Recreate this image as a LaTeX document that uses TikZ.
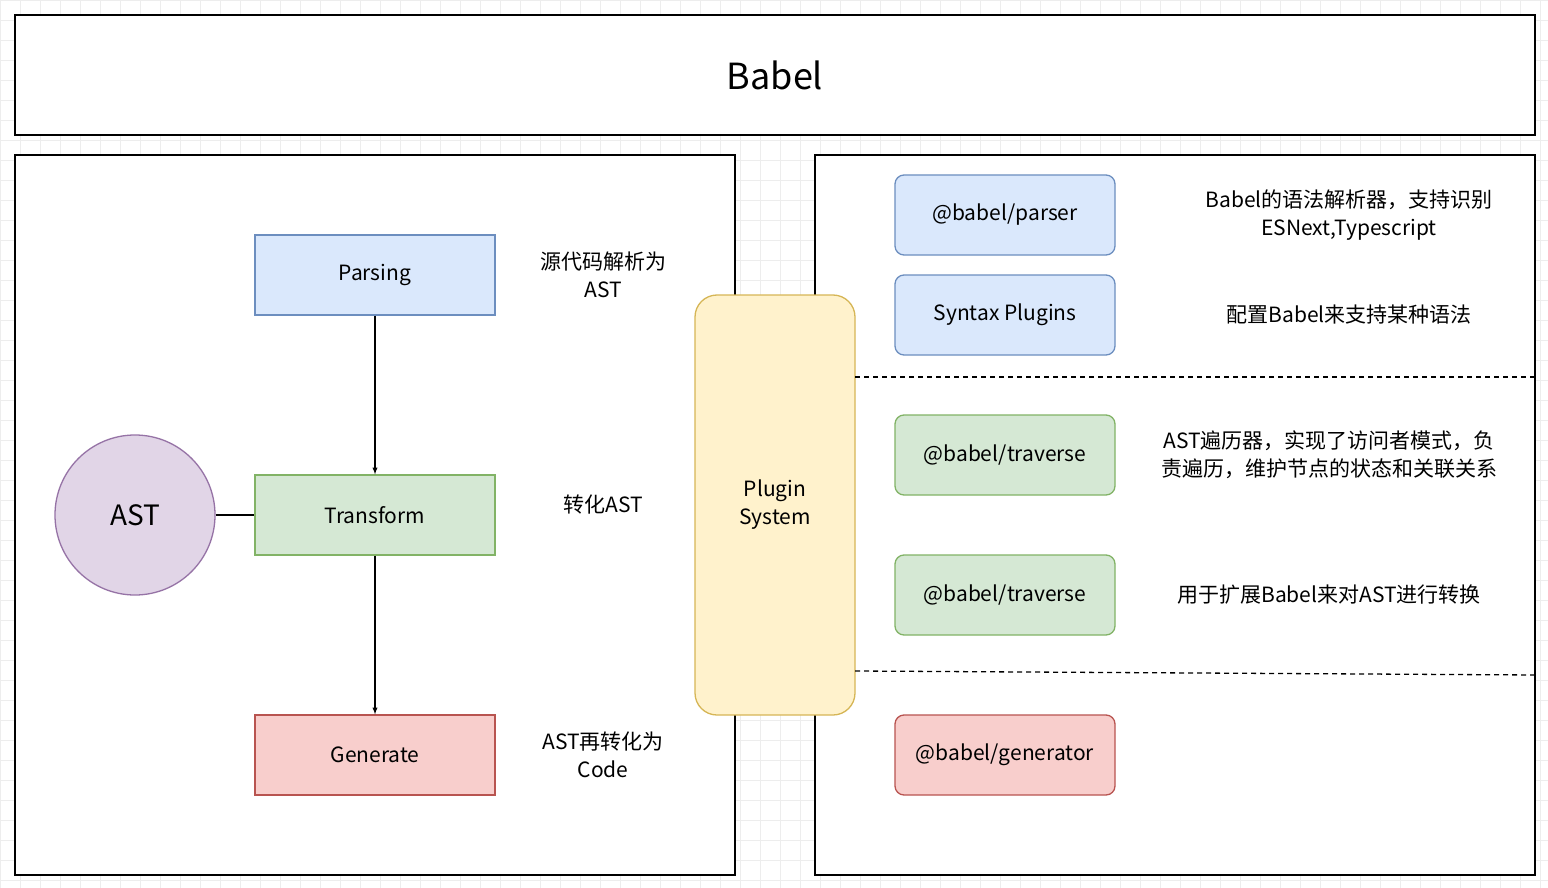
\documentclass[tikz,border=0pt]{standalone}
\usepackage{fontspec}
\setmainfont{Noto Sans CJK SC}
\begin{document}
\begin{tikzpicture}[x=1pt,y=-1pt,
  box/.style={draw=black,line width=1.3pt},
  n/.style={draw,line width=1.3pt,minimum width=240pt,minimum height=80pt,font=\fontsize{21}{25}\selectfont},
  rn/.style={n,rounded corners=9pt,minimum width=220pt},
  blue/.style={fill={rgb,255:red,218;green,232;blue,252},draw={rgb,255:red,108;green,142;blue,191}},
  green/.style={fill={rgb,255:red,213;green,232;blue,212},draw={rgb,255:red,130;green,179;blue,102}},
  red/.style={fill={rgb,255:red,248;green,206;blue,204},draw={rgb,255:red,184;green,84;blue,80}},
  lbl/.style={align=center,font=\fontsize{21}{28}\selectfont},
  arr/.style={-latex,line width=1.3pt}]
\useasboundingbox (0,0) rectangle (1548,888);
\fill[white] (0,0) rectangle (1548,888);
\draw[black!7,line width=0.8pt,step=20pt] (0,0) grid (1548,888);
\node[box,minimum width=1520pt,minimum height=120pt,fill=white,font=\fontsize{36}{40}\selectfont] (babel) at (775,75) {Babel};
\draw[box,fill=white] (15,155) rectangle (735,875);
\draw[box,fill=white] (815,155) rectangle (1535,875);
\node[n,blue] (parsing) at (375,275) {Parsing};
\node[n,green] (transform) at (375,515) {Transform};
\node[n,red] (generate) at (375,755) {Generate};
\node[circle,draw,line width=1.3pt,minimum size=160pt,fill={rgb,255:red,225;green,213;blue,231},draw={rgb,255:red,150;green,115;blue,166},font=\fontsize{28}{32}\selectfont] (ast) at (135,515) {AST};
\draw[line width=1.3pt] (ast) -- (transform);
\draw[arr] (parsing) -- (transform);
\draw[arr] (transform) -- (generate);
\node[lbl] (l1) at (603,275) {源代码解析为\\AST};
\node[lbl] (l2) at (603,505) {转化AST};
\node[lbl] (l3) at (603,755) {AST再转化为\\Code};
\node[draw,line width=1.3pt,rounded corners=22pt,minimum width=160pt,minimum height=420pt,fill={rgb,255:red,255;green,242;blue,204},draw={rgb,255:red,214;green,182;blue,86},align=center,font=\fontsize{21}{28}\selectfont] (plugin) at (775,505) {Plugin\\System};
\node[rn,blue] (p1) at (1005,215) {@babel/parser};
\node[rn,blue] (p2) at (1005,315) {Syntax Plugins};
\node[rn,green] (p3) at (1005,455) {@babel/traverse};
\node[rn,green] (p4) at (1005,595) {@babel/traverse};
\node[rn,red] (p5) at (1005,755) {@babel/generator};
\coordinate (d1a) at (855,377); \coordinate (d1b) at (1535,377);
\coordinate (d2a) at (855,671); \coordinate (d2b) at (1535,675);
\draw[dashed,line width=1.3pt,dash pattern=on 5pt off 4pt] (d1a) -- (d1b);
\draw[dashed,line width=1.3pt,dash pattern=on 5pt off 4pt] (d2a) -- (d2b);
\node[lbl] (t1) at (1349,215) {Babel的语法解析器，支持识别\\ESNext,Typescript};
\node[lbl] (t2) at (1349,315) {配置Babel来支持某种语法};
\node[lbl] (t3) at (1329,455) {AST遍历器，实现了访问者模式，负\\责遍历，维护节点的状态和关联关系};
\node[lbl] (t4) at (1329,595) {用于扩展Babel来对AST进行转换};
\end{tikzpicture}
\end{document}
